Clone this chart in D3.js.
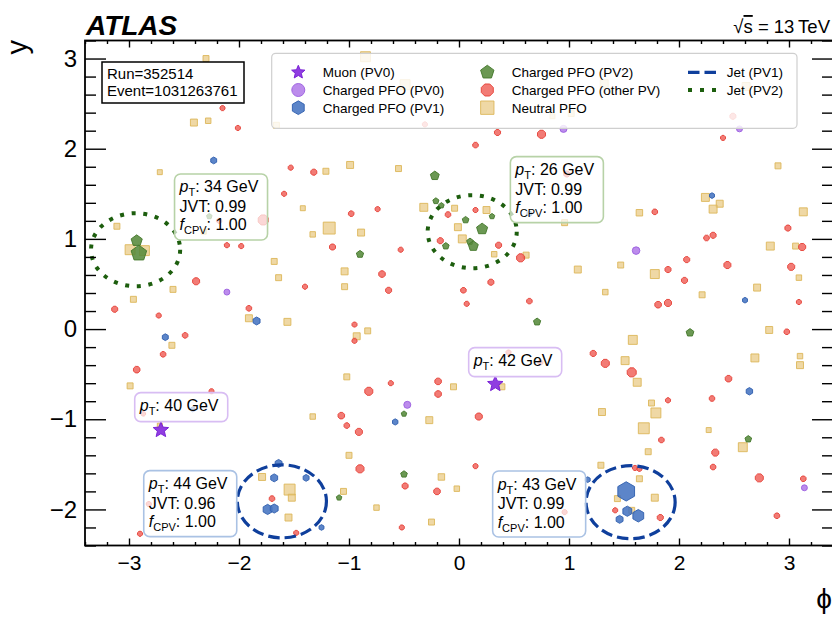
<!DOCTYPE html>
<html><head><meta charset="utf-8">
<script src="https://cdn.jsdelivr.net/npm/d3@7"></script>
<style>
body{margin:0;background:#fff}
svg{display:block}
text{font-family:"Liberation Sans",Arial,Helvetica,sans-serif;fill:#000}
</style>
</head><body>
<svg id="c" width="832" height="617"></svg>
<script>
// ---------------- DATA (phi, y, energy weight) ----------------
const neutralPFO = [[-2.30,3.00,6],[-2.41,2.29,7],[-2.28,2.31,5.5],[-2.72,1.74,5],[-1.42,1.34,5],[-3.11,1.14,6],[-2.32,1.08,5],[-1.33,1.05,5.5],[-1.18,1.12,12],[-2.99,0.88,10],[-2.86,0.87,10],[-1.68,0.75,6],[-1.64,0.57,6],[-2.60,0.44,6],[-2.96,0.33,6],[-1.91,0.12,7],[-1.56,0.08,7],[-2.61,-0.18,6],[-2.99,-0.63,6],[-1.33,-0.97,5.5],[-1.79,-1.64,7],[-1.54,-1.78,11],[-1.52,-1.87,7],[-1.55,-2.09,7],[-0.89,1.07,7],[-1.04,0.64,7],[-1.04,0.47,6],[-0.01,1.13,7],[0.03,1.00,8],[0.32,0.83,5.5],[0.61,0.82,6],[-0.83,-0.02,6],[-0.93,-0.08,7],[0.39,-0.64,6],[-0.05,-0.64,6],[-1.02,-0.53,6],[-0.27,-1.01,7],[-1.00,-1.40,6],[-0.16,-1.64,6.5],[-0.02,-1.77,5.5],[-1.05,-1.80,6],[-0.75,-1.98,5.5],[-0.25,-2.14,6],[-0.85,3.02,10],[-0.49,2.71,10],[-1.66,2.26,6],[-1.21,1.75,6],[-0.99,1.82,7],[-0.55,1.78,6],[-0.32,1.35,8],[-0.04,1.34,6],[0.25,1.32,7],[1.32,2.72,8],[2.61,2.69,8],[0.85,2.36,5],[1.02,2.39,6],[2.90,1.81,6],[0.96,1.18,6],[1.64,1.29,6.5],[2.24,1.46,8],[2.37,1.39,7],[2.31,1.33,8],[3.13,1.30,8],[2.83,0.92,8],[3.06,0.92,6],[1.08,0.66,7],[1.47,0.71,6],[1.78,0.61,9],[3.09,0.57,5.5],[1.33,0.41,5.5],[2.21,0.38,6],[2.71,0.46,7],[2.82,-0.01,7],[1.58,-0.12,9],[1.51,-0.35,8],[1.62,-0.59,8],[2.69,-0.32,8],[3.10,-0.30,5.5],[3.10,-0.40,7],[1.75,-0.82,6],[1.30,-0.92,7],[1.79,-0.93,10],[1.68,-1.10,11],[2.27,-1.12,5],[2.58,-1.31,9],[1.72,-1.36,6],[1.29,-1.51,6],[1.64,-1.66,6],[1.44,-1.88,6],[1.78,-1.87,7],[1.57,-2.01,6],[-2.72,-1.07,5]];

const chargedOtherPV = [[-2.15,2.45,5],[-2.01,2.23,5],[-1.53,1.79,5],[-1.32,1.74,6],[-1.59,1.50,5],[-2.18,1.20,5],[-1.78,1.21,10],[-2.11,0.93,5],[-1.98,0.92,5],[-2.39,0.53,7],[-1.40,0.47,5],[-3.13,0.22,6],[-2.73,0.15,5],[-1.91,0.23,5.5],[-2.49,-0.07,5.5],[-2.69,-0.28,5.5],[-2.93,-0.45,6.5],[-2.25,-0.69,5],[-2.87,-0.94,4.5],[-1.70,-1.88,5.5],[-1.48,-2.26,5],[-2.82,-1.94,5],[-2.90,-2.27,5],[-1.15,0.91,6],[-0.53,0.88,5],[-0.70,0.61,6.5],[-0.64,0.43,6],[-0.17,0.98,6],[0.36,0.93,6],[0.56,0.79,8],[0.29,0.52,6],[0.04,0.43,5.5],[0.07,0.28,5],[0.64,0.31,5.5],[-0.95,0.05,5],[-0.95,-0.13,5],[0.45,-0.26,5],[-0.19,-0.58,6.5],[-0.19,-0.72,6.5],[-0.62,-0.60,5],[-0.82,-0.69,8],[-1.07,-0.96,6.5],[-1.02,-1.07,5.5],[-0.91,-1.14,7],[0.18,-0.97,7],[-0.90,-1.55,8],[0.15,-1.52,5],[-0.49,-1.74,6],[-0.20,-1.80,6.5],[-0.52,-2.20,5],[-0.31,2.27,5],[0.35,2.18,6],[0.75,2.16,8],[0.15,2.04,5.5],[-0.98,1.28,5.5],[-0.74,1.33,5],[-0.10,1.27,5.5],[0.15,1.32,5],[0.98,1.72,6],[2.49,2.36,6],[2.40,2.12,5],[1.78,1.30,5.5],[2.99,1.12,6],[2.25,1.01,5.5],[2.31,1.04,6],[3.12,0.91,7],[2.07,0.77,6],[1.90,0.66,6],[2.44,0.71,7],[2.05,0.54,6],[3.02,0.69,7],[3.09,0.30,5],[1.81,0.27,6.5],[1.90,0.29,7],[2.98,-0.03,5.5],[1.22,-0.27,6],[1.33,-0.38,8],[1.57,-0.48,9],[2.45,-0.55,6.5],[1.90,-0.79,5],[2.30,-0.77,5.5],[1.84,-1.23,5.5],[2.33,-1.37,7],[2.31,-1.53,5.5],[1.60,-1.54,5],[1.64,-1.55,5],[2.73,-1.65,8],[3.13,-1.66,5.5],[1.42,-2.01,5],[1.83,-2.09,6],[2.89,-2.07,5.5],[0.96,-2.03,5],[0.74,-0.37,5]];

const chargedPV0 = [[-2.11,0.41,5.5],[-0.47,-0.84,6.5],[0.95,2.22,6.5],[2.55,2.22,5.5],[1.61,0.87,7],[3.14,-1.76,5.5]];

const chargedPV2 = [[-2.27,1.25,5],[-2.93,0.98,10],[-2.91,0.84,14],[-0.90,0.83,6.5],[0.21,1.11,10],[0.10,0.97,6],[0.13,0.92,9],[-0.12,0.92,6],[-0.22,1.70,8],[-0.21,1.42,5.5],[-0.16,1.37,5],[0.06,1.21,6],[0.30,1.25,5],[0.71,0.08,6.5],[-0.50,-0.94,5],[-0.50,-1.61,6],[-1.09,-1.87,5],[2.10,-0.04,7],[2.63,-1.22,6]];

const chargedPV1 = [[-2.23,1.87,6],[-1.84,0.09,7],[-2.67,-0.09,6],[-2.42,-0.89,4.5],[-1.64,-1.49,7],[-1.68,-1.65,7],[-1.39,-1.65,6],[-1.74,-2.00,9],[-1.68,-1.99,8],[-1.25,-2.20,5],[-0.58,-1.03,5.5],[0.64,1.28,5],[2.30,1.48,5],[2.60,0.32,5],[2.64,-0.69,6.5],[1.17,-1.67,5],[1.52,-1.80,17],[1.53,-2.02,9],[1.63,-2.07,11],[1.46,-2.11,7]];

const muons = [[-2.71,-1.12,15],[0.33,-0.61,15]];

// jets: centre (phi, y), radius R
const jetsPV1 = [[-1.61,-1.91],[1.56,-1.92]];
const jetsPV2 = [[-2.94,0.88],[0.12,1.08]];
const jetR = 0.405;

// annotation boxes (anchor = top-left corner in data coords)
const boxPhi  = [-2.586, 0.467, 0.088, -2.948, -2.866, 0.306];
const boxY    = [1.72, 1.912, -0.206, -0.705, -1.570, -1.574];
const boxPt   = [34, 26, 42, 40, 44, 43];
const boxJVT  = ["0.99","0.99",null,null,"0.96","0.99"];
const boxFcpv = ["1.00","1.00",null,null,"1.00","1.00"];
const boxKind = ["PV2","PV2","mu","mu","PV1","PV1"];

const xMajor = [-3,-2,-1,0,1,2,3];
const yMajor = [-2,-1,0,1,2,3];

const runLabel = "Run=352514";
const eventLabel = "Event=1031263761";

// ---------------- STYLE ----------------
const FONT = '"Liberation Sans",Arial,Helvetica,sans-serif';
const styles = {
  neutral:{fill:"#e8c67a", fo:0.68, stroke:"#ddb75a", so:0.9, shape:"square"},
  other:  {fill:"#ef5a52", fo:0.8, stroke:"#e6443b", so:0.95, shape:"oct"},
  pv0:    {fill:"#b37ce9", fo:0.88, stroke:"#9d62e0", so:0.95, shape:"circle"},
  pv2:    {fill:"#568a3b", fo:0.88, stroke:"#477a2e", so:0.95, shape:"pent"},
  pv1:    {fill:"#4574c2", fo:0.88, stroke:"#3462b0", so:0.95, shape:"hex"},
  mu:     {fill:"#8a33df", fo:0.95, stroke:"#7a22d6", so:1, shape:"star"}
};
const boxColor = {PV2:"#b7d2a7", mu:"#d8bdf3", PV1:"#aac2e4"};

// ---------------- SETUP ----------------
const svg = d3.select("#c");
svg.append("rect").attr("width",832).attr("height",617).attr("fill","#fff");
const P = {left:85, right:833, top:40.5, bottom:545.5};
const x = d3.scaleLinear().domain([-3.4,3.4]).range([P.left,P.right]);
const y = d3.scaleLinear().domain([-2.4,3.2]).range([P.bottom,P.top]);
const size = d3.scaleLinear().domain([0,10]).range([0,10.8]);

function poly(n, r, rot){
  const pts=[];
  for(let i=0;i<n;i++){const a=rot+i*2*Math.PI/n; pts.push([r*Math.sin(a), -r*Math.cos(a)]);}
  return "M"+pts.map(p=>p[0].toFixed(2)+","+p[1].toFixed(2)).join("L")+"Z";
}
function star(r){
  const pts=[];
  for(let i=0;i<10;i++){const a=i*Math.PI/5; const rr=i%2?r*0.45:r; pts.push([rr*Math.sin(a), -rr*Math.cos(a)]);}
  return "M"+pts.map(p=>p[0].toFixed(2)+","+p[1].toFixed(2)).join("L")+"Z";
}
function shapePath(kind, d){
  const r=d/2;
  switch(kind){
    case "square": {const s=d*0.46; return `M${-s},${-s}H${s}V${s}H${-s}Z`;}
    case "circle": return d3.symbol(d3.symbolCircle, Math.PI*r*r)();
    case "oct": return poly(8, r, Math.PI/8);
    case "hex": return poly(6, r*1.05, 0);
    case "pent": return poly(5, r*1.08, 0);
    case "star": return star(r);
  }
}

svg.append("defs").append("clipPath").attr("id","clip")
  .append("rect").attr("x",P.left).attr("y",P.top).attr("width",P.right-P.left).attr("height",P.bottom-P.top);

const gMarks = svg.append("g").attr("clip-path","url(#clip)");
function drawSeries(data, st){
  gMarks.append("g").selectAll("path").data(data).join("path")
    .attr("d", d=>shapePath(st.shape, size(d[2])))
    .attr("transform", d=>`translate(${x(d[0])},${y(d[1])})`)
    .attr("fill", st.fill).attr("fill-opacity", st.fo)
    .attr("stroke", st.stroke).attr("stroke-opacity", st.so).attr("stroke-width", 1);
}
drawSeries(neutralPFO, styles.neutral);
drawSeries(chargedOtherPV, styles.other);
drawSeries(chargedPV0, styles.pv0);
drawSeries(chargedPV2, styles.pv2);
drawSeries(chargedPV1, styles.pv1);
drawSeries(muons, styles.mu);

// jets
const rx = x(jetR)-x(0), ry = y(0)-y(jetR);
gMarks.append("g").selectAll("ellipse").data(jetsPV1).join("ellipse")
  .attr("cx",d=>x(d[0])).attr("cy",d=>y(d[1])).attr("rx",rx).attr("ry",ry)
  .attr("fill","none").attr("stroke","#0f3f9c").attr("stroke-width",3.2).attr("stroke-dasharray","11.5,5");
gMarks.append("g").selectAll("ellipse").data(jetsPV2).join("ellipse")
  .attr("cx",d=>x(d[0])).attr("cy",d=>y(d[1])).attr("rx",rx).attr("ry",ry)
  .attr("fill","none").attr("stroke","#1d5e0e").attr("stroke-width",4).attr("stroke-dasharray","4,7.7");

// ---------------- AXES ----------------
const xMinor = d3.range(-3.4,3.41,0.2).map(v=>+v.toFixed(2)).filter(v=>!xMajor.includes(Math.round(v*100)/100));
const yMinor = d3.range(-2.4,3.21,0.2).map(v=>+v.toFixed(2)).filter(v=>!yMajor.includes(Math.round(v*100)/100));
const fmt = d=> d<0 ? "\u2212"+Math.abs(d) : ""+d;

function styleAxis(g){ g.select(".domain").remove(); g.selectAll("line").attr("stroke","#000").attr("stroke-width",1.4); }

svg.append("g").attr("transform",`translate(0,${P.bottom})`)
  .call(d3.axisBottom(x).tickValues(xMajor).tickSize(-7).tickPadding(10).tickFormat(fmt))
  .call(styleAxis)
  .call(g=>g.selectAll("text").attr("font-size",21).attr("font-family",FONT).attr("fill","#000"));
svg.append("g").attr("transform",`translate(0,${P.bottom})`)
  .call(d3.axisBottom(x).tickValues(xMinor).tickSize(-3.5).tickFormat(""))
  .call(styleAxis);
svg.append("g").attr("transform",`translate(0,${P.top})`)
  .call(d3.axisTop(x).tickValues(xMajor).tickSize(-7).tickFormat(""))
  .call(styleAxis);
svg.append("g").attr("transform",`translate(0,${P.top})`)
  .call(d3.axisTop(x).tickValues(xMinor).tickSize(-3.5).tickFormat(""))
  .call(styleAxis);

svg.append("g").attr("transform",`translate(${P.left},0)`)
  .call(d3.axisLeft(y).tickValues(yMajor).tickSize(-21).tickPadding(8).tickFormat(fmt))
  .call(styleAxis)
  .call(g=>g.selectAll("text").attr("font-size",24).attr("font-family",FONT).attr("fill","#000"));
svg.append("g").attr("transform",`translate(${P.left},0)`)
  .call(d3.axisLeft(y).tickValues(yMinor).tickSize(-11).tickFormat(""))
  .call(styleAxis);
svg.append("g").attr("transform",`translate(${P.right},0)`)
  .call(d3.axisRight(y).tickValues(yMajor).tickSize(-21).tickFormat(""))
  .call(styleAxis);
svg.append("g").attr("transform",`translate(${P.right},0)`)
  .call(d3.axisRight(y).tickValues(yMinor).tickSize(-11).tickFormat(""))
  .call(styleAxis);

// frame
svg.append("rect").attr("x",P.left).attr("y",P.top).attr("width",P.right-P.left).attr("height",P.bottom-P.top)
  .attr("fill","none").attr("stroke","#000").attr("stroke-width",1.8);

// axis titles
svg.append("text").attr("transform","translate(27,40) rotate(-90)").attr("text-anchor","end")
  .attr("font-size",29).text("y");
svg.append("text").attr("x",832).attr("y",608).attr("text-anchor","end")
  .attr("font-size",28).text("\u03D5");

// ATLAS & energy
svg.append("text").attr("x",86).attr("y",35).attr("font-size",28).attr("font-weight","bold")
  .attr("font-style","italic").text("ATLAS");
const es = svg.append("text").attr("x",830).attr("y",33).attr("text-anchor","end").attr("font-size",18.5);
es.append("tspan").text("\u221A");
es.append("tspan").attr("text-decoration","overline").text("s");
es.append("tspan").text(" = 13\u2009TeV");

// run box
svg.append("rect").attr("x",102).attr("y",62).attr("width",142).attr("height",41)
  .attr("fill","#fff").attr("stroke","#000").attr("stroke-width",1.5);
svg.append("text").attr("x",107).attr("y",78.5).attr("font-size",15).text(runLabel);
svg.append("text").attr("x",107).attr("y",96).attr("font-size",15).text(eventLabel);

// ---------------- LEGEND ----------------
const lg = svg.append("g");
lg.append("rect").attr("x",271.7).attr("y",53.3).attr("width",525.3).attr("height",75).attr("rx",4)
  .attr("fill","#fff").attr("fill-opacity",0.82).attr("stroke","#cfcfcf").attr("stroke-width",1.2);
const legendItems = [
  {label:"Muon (PV0)", st:styles.mu, col:0, row:0, d:14},
  {label:"Charged PFO (PV0)", st:styles.pv0, col:0, row:1, d:13},
  {label:"Charged PFO (PV1)", st:styles.pv1, col:0, row:2, d:13},
  {label:"Charged PFO (PV2)", st:styles.pv2, col:1, row:0, d:13},
  {label:"Charged PFO (other PV)", st:styles.other, col:1, row:1, d:13},
  {label:"Neutral PFO", st:styles.neutral, col:1, row:2, d:14.5}
];
const colMarkX=[298.3,487.3], colTextX=[322.7,511.7], rowY=[72.3,90,107.7];
legendItems.forEach(it=>{
  lg.append("path").attr("d",shapePath(it.st.shape,it.d))
    .attr("transform",`translate(${colMarkX[it.col]},${rowY[it.row]})`)
    .attr("fill",it.st.fill).attr("fill-opacity",it.st.fo).attr("stroke",it.st.stroke).attr("stroke-opacity",it.st.so);
  lg.append("text").attr("x",colTextX[it.col]).attr("y",rowY[it.row]).attr("dy","0.36em")
    .attr("font-size",13.5).text(it.label);
});
lg.append("line").attr("x1",688).attr("x2",716).attr("y1",rowY[0]).attr("y2",rowY[0])
  .attr("stroke","#0f3f9c").attr("stroke-width",3.2).attr("stroke-dasharray","11.5,5");
lg.append("text").attr("x",726.7).attr("y",rowY[0]).attr("dy","0.36em").attr("font-size",13.5).text("Jet (PV1)");
lg.append("line").attr("x1",688).attr("x2",716).attr("y1",rowY[1]).attr("y2",rowY[1])
  .attr("stroke","#1d5e0e").attr("stroke-width",4).attr("stroke-dasharray","4,8");
lg.append("text").attr("x",726.7).attr("y",rowY[1]).attr("dy","0.36em").attr("font-size",13.5).text("Jet (PV2)");

// ---------------- ANNOTATION BOXES ----------------
boxPt.forEach((pt,i)=>{
  const bx=x(boxPhi[i]), by=y(boxY[i]);
  const three = boxJVT[i]!==null;
  const g = svg.append("g");
  g.append("rect").attr("x",bx).attr("y",by).attr("width",93).attr("height",three?66:29).attr("rx",6)
    .attr("fill","#fff").attr("fill-opacity",0.7).attr("stroke",boxColor[boxKind[i]]).attr("stroke-width",1.6);
  const t1=g.append("text").attr("x",bx+5).attr("y",by+18.5).attr("font-size",16);
  t1.append("tspan").attr("font-style","italic").text("p");
  t1.append("tspan").attr("font-size",11).attr("dy",4).text("T");
  t1.append("tspan").attr("dy",-4).text(": "+pt+" GeV");
  if(three){
    g.append("text").attr("x",bx+5).attr("y",by+38).attr("font-size",16).text("JVT: "+boxJVT[i]);
    const t3=g.append("text").attr("x",bx+5).attr("y",by+56.5).attr("font-size",16);
    t3.append("tspan").attr("font-style","italic").text("f");
    t3.append("tspan").attr("font-size",11).attr("dy",4).text("CPV");
    t3.append("tspan").attr("dy",-4).text(": "+boxFcpv[i]);
  }
});
</script>
</body></html>
